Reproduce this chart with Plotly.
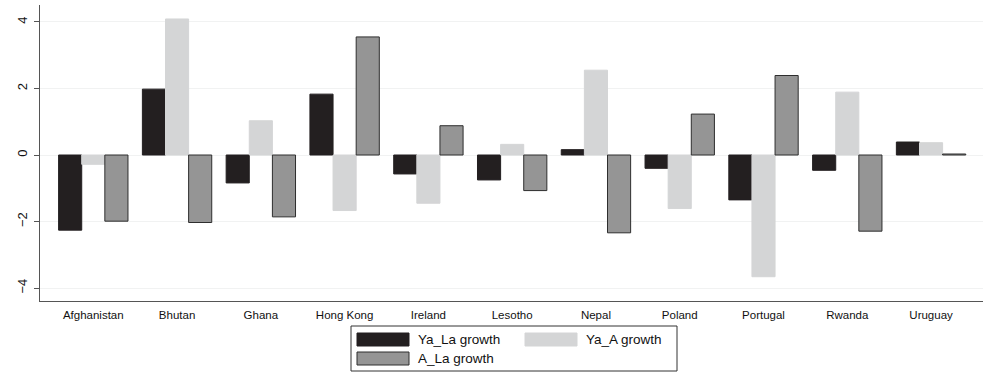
import plotly.graph_objects as go

# Countries and growth decompositions
countries = ["Afghanistan", "Bhutan", "Ghana", "Hong Kong", "Ireland", "Lesotho",
             "Nepal", "Poland", "Portugal", "Rwanda", "Uruguay"]
ya_la_growth = [-2.26, 1.98, -0.84, 1.83, -0.57, -0.75, 0.16, -0.40, -1.35, -0.46, 0.39]
ya_a_growth = [-0.28, 4.09, 1.03, -1.67, -1.45, 0.32, 2.55, -1.61, -3.66, 1.89, 0.37]
a_la_growth = [-1.99, -2.03, -1.86, 3.55, 0.88, -1.07, -2.34, 1.23, 2.39, -2.29, 0.03]
y_ticks = [-4, -2, 0, 2, 4]

series = [
    ("Ya_La growth", ya_la_growth, "#231f20", "#231f20"),
    ("Ya_A growth", ya_a_growth, "#d4d5d6", "#d4d5d6"),
    ("A_La growth", a_la_growth, "#959595", "#2e2e2e"),
]

W, H = 983, 374
ML, MR, MT, MB = 40, 0, 5, 73
PW, PH = W - ML - MR, H - MT - MB
FONT = "Liberation Sans, Arial, Helvetica, sans-serif"

fig = go.Figure()
for name, vals, fill, edge in series:
    fig.add_trace(go.Bar(
        x=countries, y=vals, name=name,
        marker=dict(color=fill, line=dict(color=edge, width=1)),
        showlegend=False,
    ))


def px_x(p):
    return (p - ML) / PW


def px_y(p):
    return (H - MB - p) / PH


# Boxed legend below the plot
shapes = [dict(type="rect", xref="paper", yref="paper",
               x0=px_x(351), x1=px_x(677), y0=px_y(371), y1=px_y(326),
               line=dict(color="#333333", width=1), fillcolor="white")]
annotations = []
legend_slots = [(357, 333), (525, 333), (357, 352)]
for (name, vals, fill, edge), (lx, ly) in zip(series, legend_slots):
    shapes.append(dict(type="rect", xref="paper", yref="paper",
                       x0=px_x(lx), x1=px_x(lx + 52), y0=px_y(ly + 13), y1=px_y(ly),
                       fillcolor=fill, line=dict(color=edge, width=1)))
    annotations.append(dict(xref="paper", yref="paper", x=px_x(lx + 59), y=px_y(ly + 6.5),
                            text=name, showarrow=False, xanchor="left", yanchor="middle",
                            font=dict(family=FONT, size=13.5, color="#111111")))

fig.update_layout(
    width=W, height=H,
    margin=dict(l=ML, r=MR, t=MT, b=MB),
    paper_bgcolor="white", plot_bgcolor="white",
    barmode="group", bargap=0.172, bargroupgap=0,
    font=dict(family=FONT, color="#111111"),
    shapes=shapes, annotations=annotations,
    xaxis=dict(
        type="category", range=[-0.636, 10.62],
        showline=True, linecolor="#555555", linewidth=1,
        ticks="", showgrid=False, zeroline=False,
        ticklabelstandoff=3,
        tickfont=dict(size=11.5, color="#111111"),
    ),
    yaxis=dict(
        range=[-4.39, 4.51], tickvals=y_ticks,
        tickangle=-90,
        showline=True, linecolor="#555555", linewidth=1,
        ticks="outside", ticklen=5, tickcolor="#555555",
        showgrid=True, gridcolor="#f1f2f2", gridwidth=1,
        zeroline=False,
        ticklabelstandoff=2,
        tickfont=dict(size=13, color="#111111"),
    ),
)

fig.write_html("out.html")
